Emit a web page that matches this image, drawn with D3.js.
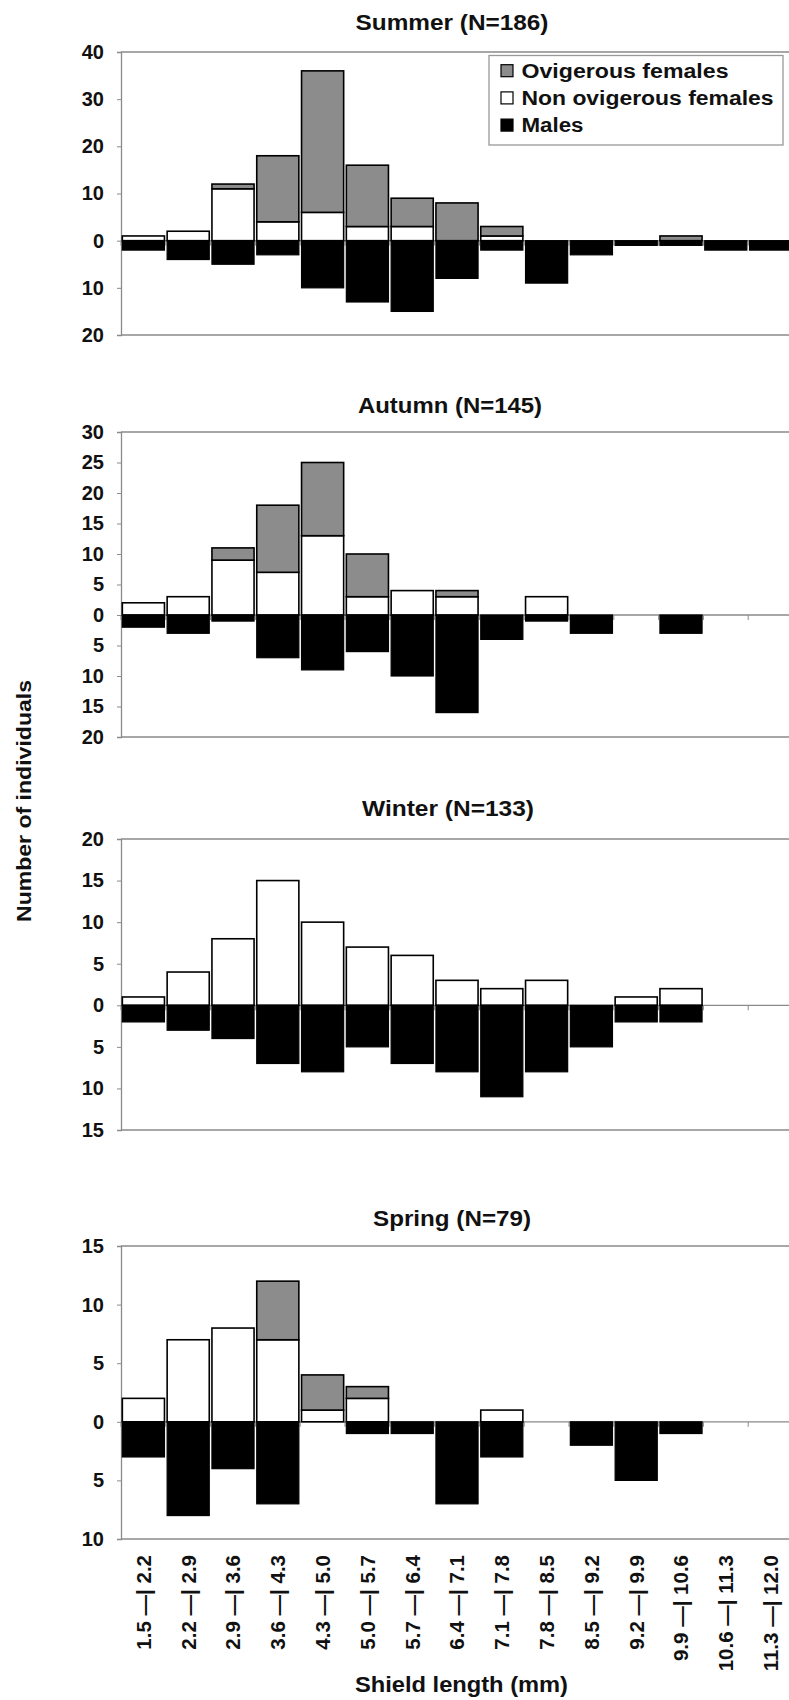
<!DOCTYPE html>
<html><head><meta charset="utf-8">
<script src="https://cdn.jsdelivr.net/npm/d3@7"></script>
<style>
body{margin:0;background:#fff}
svg{display:block}
text{font-family:"Liberation Sans",Arial,sans-serif;font-weight:bold;fill:#111}
</style>
</head><body>
<svg id="c" width="789" height="1700"></svg>
<script>
// ---- data ----
const categories = ["1.5 —| 2.2","2.2 —| 2.9","2.9 —| 3.6","3.6 —| 4.3","4.3 —| 5.0","5.0 —| 5.7","5.7 —| 6.4","6.4 —| 7.1","7.1 —| 7.8","7.8 —| 8.5","8.5 —| 9.2","9.2 —| 9.9","9.9 —| 10.6","10.6 —| 11.3","11.3 —| 12.0"];
const seriesNames = ["Ovigerous females","Non ovigerous females","Males"];
const seasonTitles = ["Summer (N=186)","Autumn (N=145)","Winter (N=133)","Spring (N=79)"];

const summerOv    = [0,0,1,14,30,13,6,8,2,0,0,0,1,0,0];
const summerNonOv = [1,2,11,4,6,3,3,0,1,0,0,0,0,0,0];
const summerMales = [2,4,5,3,10,13,15,8,2,9,3,1,1,2,2];

const autumnOv    = [0,0,2,11,12,7,0,1,0,0,0,0,0,0,0];
const autumnNonOv = [2,3,9,7,13,3,4,3,0,3,0,0,0,0,0];
const autumnMales = [2,3,1,7,9,6,10,16,4,1,3,0,3,0,0];

const winterOv    = [0,0,0,0,0,0,0,0,0,0,0,0,0,0,0];
const winterNonOv = [1,4,8,15,10,7,6,3,2,3,0,1,2,0,0];
const winterMales = [2,3,4,7,8,5,7,8,11,8,5,2,2,0,0];

const springOv    = [0,0,0,5,3,1,0,0,0,0,0,0,0,0,0];
const springNonOv = [2,7,8,7,1,2,0,0,1,0,0,0,0,0,0];
const springMales = [3,8,4,7,0,1,1,7,3,0,2,5,1,0,0];

const summerTicks = [-20,-10,0,10,20,30,40];
const autumnTicks = [-20,-15,-10,-5,0,5,10,15,20,25,30];
const winterTicks = [-15,-10,-5,0,5,10,15,20];
const springTicks = [-10,-5,0,5,10,15];

// ---- layout ----
const panels = [
  {title:seasonTitles[0], ov:summerOv, non:summerNonOv, males:summerMales, ticks:summerTicks, top:52, bottom:335, titleY:22, titleW:193, titleX:452},
  {title:seasonTitles[1], ov:autumnOv, non:autumnNonOv, males:autumnMales, ticks:autumnTicks, top:432, bottom:737, titleY:405, titleW:184, titleX:450},
  {title:seasonTitles[2], ov:winterOv, non:winterNonOv, males:winterMales, ticks:winterTicks, top:839, bottom:1130, titleY:808, titleW:172, titleX:448},
  {title:seasonTitles[3], ov:springOv, non:springNonOv, males:springMales, ticks:springTicks, top:1246, bottom:1539, titleY:1218, titleW:158, titleX:452}
];

const GRAY = "#8c8c8c";
const AXIS = "#8a8a8a";
const left = 121, right = 793;
const svg = d3.select("#c");
svg.append("rect").attr("width",789).attr("height",1700).attr("fill","#fff");

const x = d3.scaleBand().domain(categories).range([left, right]).paddingInner(0.06).paddingOuter(0.03);
const step = x.step();
const boundaries = categories.map(c => x(c) - step*x.paddingInner()/2);

panels.forEach((p) => {
  const y = d3.scaleLinear().domain([d3.min(p.ticks), d3.max(p.ticks)]).range([p.bottom, p.top]);
  const g = svg.append("g");

  // frame
  g.append("line").attr("x1",left).attr("x2",right).attr("y1",y(d3.max(p.ticks))).attr("y2",y(d3.max(p.ticks)))
    .attr("stroke",AXIS).attr("stroke-width",1.3);
  g.append("line").attr("x1",left).attr("x2",right).attr("y1",y(d3.min(p.ticks))).attr("y2",y(d3.min(p.ticks)))
    .attr("stroke",AXIS).attr("stroke-width",1.3);

  // zero line with category boundary ticks
  g.append("line").attr("x1",left).attr("x2",right).attr("y1",y(0)).attr("y2",y(0))
    .attr("stroke",AXIS).attr("stroke-width",1.3);
  g.selectAll("line.bt").data(boundaries).join("line").attr("class","bt")
    .attr("x1",d=>d).attr("x2",d=>d).attr("y1",y(0)).attr("y2",y(0)+5)
    .attr("stroke",AXIS).attr("stroke-width",1);

  // y axis
  const ax = g.append("g").attr("transform",`translate(${left},0)`)
    .call(d3.axisLeft(y).tickValues(p.ticks).tickSize(4).tickPadding(13).tickFormat(d=>Math.abs(d)));
  ax.select(".domain").attr("stroke",AXIS).attr("stroke-width",1.3);
  ax.selectAll(".tick line").attr("stroke",AXIS);
  ax.selectAll(".tick text").attr("font-size",20).attr("fill","#111")
    .style("font-family",'"Liberation Sans",Arial,sans-serif').style("font-weight","bold");

  // bars
  const rows = categories.map((c,i)=>({c, ov:p.ov[i], non:p.non[i], m:p.males[i]}));
  g.selectAll("rect.non").data(rows.filter(d=>d.non>0)).join("rect").attr("class","non")
    .attr("x",d=>x(d.c)).attr("width",x.bandwidth())
    .attr("y",d=>y(d.non)).attr("height",d=>y(0)-y(d.non))
    .attr("fill","#fff").attr("stroke","#000").attr("stroke-width",1.6);
  g.selectAll("rect.ov").data(rows.filter(d=>d.ov>0)).join("rect").attr("class","ov")
    .attr("x",d=>x(d.c)).attr("width",x.bandwidth())
    .attr("y",d=>y(d.non+d.ov)).attr("height",d=>y(d.non)-y(d.non+d.ov))
    .attr("fill",GRAY).attr("stroke","#000").attr("stroke-width",1.6);
  g.selectAll("rect.m").data(rows.filter(d=>d.m>0)).join("rect").attr("class","m")
    .attr("x",d=>x(d.c)).attr("width",x.bandwidth())
    .attr("y",y(0)).attr("height",d=>y(-d.m)-y(0))
    .attr("fill","#000").attr("stroke","#000").attr("stroke-width",1.2);

  // title
  g.append("text").attr("x",p.titleX).attr("y",p.titleY).attr("dy","0.35em")
    .attr("text-anchor","middle").attr("font-size",22)
    .attr("textLength",p.titleW).attr("lengthAdjust","spacingAndGlyphs")
    .text(p.title);
});

// legend (summer panel)
const lg = svg.append("g");
lg.append("rect").attr("x",489).attr("y",55.5).attr("width",294).attr("height",89.5)
  .attr("fill","#fff").attr("stroke","#999").attr("stroke-width",1.3);
const legendFill = [GRAY,"#fff","#000"];
const legendW = [207,252,62];
seriesNames.forEach((n,i)=>{
  const cy = 71 + i*27.2;
  lg.append("rect").attr("x",501).attr("y",cy-6.3).attr("width",12).attr("height",12)
    .attr("fill",legendFill[i]).attr("stroke","#000").attr("stroke-width",1.2);
  lg.append("text").attr("x",521.5).attr("y",cy).attr("dy","0.35em").attr("font-size",20)
    .attr("textLength",legendW[i]).attr("lengthAdjust","spacingAndGlyphs").text(n);
});

// x-axis category labels (bottom panel only)
svg.append("g").selectAll("text").data(categories).join("text")
  .attr("transform",d=>`translate(${x(d)+x.bandwidth()/2},1555) rotate(-90)`)
  .attr("text-anchor","end").attr("dy","0.36em").attr("font-size",20.5)
  .text(d=>d);

// axis titles
svg.append("text").attr("x",461.5).attr("y",1684).attr("dy","0.35em").attr("text-anchor","middle")
  .attr("font-size",22).attr("textLength",213).attr("lengthAdjust","spacingAndGlyphs")
  .text("Shield length (mm)");
svg.append("text").attr("transform","translate(24,801) rotate(-90)").attr("dy","0.35em")
  .attr("text-anchor","middle").attr("font-size",21).attr("textLength",242).attr("lengthAdjust","spacingAndGlyphs")
  .text("Number of individuals");
</script>
</body></html>
